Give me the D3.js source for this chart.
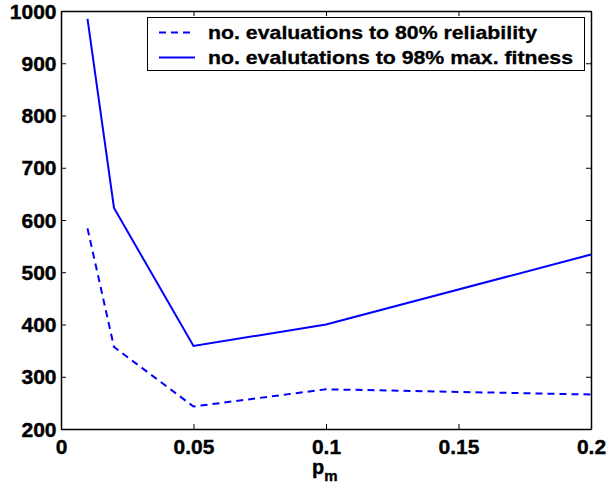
<!DOCTYPE html>
<html>
<head>
<meta charset="utf-8">
<script src="https://cdn.jsdelivr.net/npm/d3@7"></script>
<style>
  body { margin: 0; background: #fff; }
  text { font-family: "Liberation Sans", Arial, sans-serif; font-weight: bold; }
</style>
</head>
<body>
<div id="wrapper"></div>
<script>
// data
const pm = [0.01, 0.02, 0.05, 0.1, 0.2]
const evalsReliability = [584, 357, 243, 276, 266]
const evalsFitness = [985, 623, 359, 400, 534]
const seriesNames = [
  "no. evaluations to 80% reliability",
  "no. evalutations to 98% max. fitness",
]
const xTicks = [0, 0.05, 0.1, 0.15, 0.2]
const yTicks = [200, 300, 400, 500, 600, 700, 800, 900, 1000]

function drawChart() {
  let dimensions = {
    width: 607,
    height: 489,
    margins: { top: 11, right: 16, bottom: 60, left: 61 },
  }
  dimensions.boundedWidth = dimensions.width
    - dimensions.margins.left - dimensions.margins.right
  dimensions.boundedHeight = dimensions.height
    - dimensions.margins.top - dimensions.margins.bottom

  const wrapper = d3.select("#wrapper")
    .append("svg")
      .attr("width", dimensions.width)
      .attr("height", dimensions.height)

  const bounds = wrapper.append("g")
    .attr("transform", `translate(${dimensions.margins.left},${dimensions.margins.top})`)

  const xScale = d3.scaleLinear()
    .domain([0, 0.2])
    .range([0, dimensions.boundedWidth])
  const yScale = d3.scaleLinear()
    .domain([200, 1000])
    .range([dimensions.boundedHeight, 0])

  const fmtX = d => d === 0 ? "0" : String(d)

  // axes, ticks pointing inward like matlab
  const xAxis = bounds.append("g")
    .attr("transform", `translate(0,${dimensions.boundedHeight})`)
    .call(d3.axisBottom(xScale).tickValues(xTicks).tickFormat(fmtX)
      .tickSizeInner(-5).tickSizeOuter(0).tickPadding(11))
  const xAxisTop = bounds.append("g")
    .call(d3.axisTop(xScale).tickValues(xTicks).tickFormat("")
      .tickSizeInner(-5).tickSizeOuter(0))
  const yAxis = bounds.append("g")
    .call(d3.axisLeft(yScale).tickValues(yTicks).tickFormat(d3.format("d"))
      .tickSizeInner(-5).tickSizeOuter(0).tickPadding(4.5))
  const yAxisRight = bounds.append("g")
    .attr("transform", `translate(${dimensions.boundedWidth},0)`)
    .call(d3.axisRight(yScale).tickValues(yTicks).tickFormat("")
      .tickSizeInner(-5).tickSizeOuter(0))

  bounds.selectAll(".domain").attr("stroke", "#000").attr("stroke-width", 1.5)
  bounds.selectAll(".tick line").attr("stroke", "#000").attr("stroke-width", 1)
  xAxis.selectAll("text")
    .attr("fill", "#000").style("font-size", "20px").attr("dy", "0.71em")
    .attr("stroke", "#000").attr("stroke-width", 0.4)
  yAxis.selectAll("text")
    .attr("fill", "#000").style("font-size", "20px").attr("dy", "0.36em")
    .attr("stroke", "#000").attr("stroke-width", 0.4)

  // the reference glyphs are a touch wider than liberation
  bounds.selectAll(".tick text").each(function () {
    const w = this.getComputedTextLength()
    d3.select(this)
      .attr("textLength", w * 1.05)
      .attr("lengthAdjust", "spacingAndGlyphs")
  })

  // lines
  const lineGenerator = d3.line()
    .x((d, i) => xScale(pm[i]))
    .y(d => yScale(d))

  bounds.append("path")
    .attr("d", lineGenerator(evalsReliability))
    .attr("fill", "none")
    .attr("stroke", "#0000ff")
    .attr("stroke-width", 2)
    .attr("stroke-dasharray", "7,5")

  bounds.append("path")
    .attr("d", lineGenerator(evalsFitness))
    .attr("fill", "none")
    .attr("stroke", "#0000ff")
    .attr("stroke-width", 2)

  // x label
  const xLabel = wrapper.append("text")
    .attr("x", 312)
    .attr("y", 474)
    .attr("fill", "#000")
    .attr("stroke", "#000").attr("stroke-width", 0.4)
    .style("font-size", "20px")
  xLabel.append("tspan").text("p")
  xLabel.append("tspan").attr("dy", 7).style("font-size", "15px").text("m")

  // legend
  const legend = wrapper.append("g")
  legend.append("rect")
    .attr("x", 147.5)
    .attr("y", 17.5)
    .attr("width", 437)
    .attr("height", 53)
    .attr("fill", "#fff")
    .attr("stroke", "#000")
    .attr("stroke-width", 1)

  const rows = [{ dash: "7,5", len: 329 }, { dash: null, len: 365 }]
  rows.forEach((r, i) => {
    const y = 32.5 + i * 25
    legend.append("line")
      .attr("x1", 159).attr("x2", 195)
      .attr("y1", y).attr("y2", y)
      .attr("stroke", "#0000ff")
      .attr("stroke-width", 2)
      .attr("stroke-dasharray", r.dash)
    legend.append("text")
      .attr("x", 208)
      .attr("y", y)
      .attr("dy", "0.36em")
      .attr("fill", "#000")
      .attr("stroke", "#000").attr("stroke-width", 0.3)
      .attr("textLength", r.len)
      .attr("lengthAdjust", "spacingAndGlyphs")
      .style("font-size", "19px")
      .text(seriesNames[i])
  })
}

drawChart()
</script>
</body>
</html>
